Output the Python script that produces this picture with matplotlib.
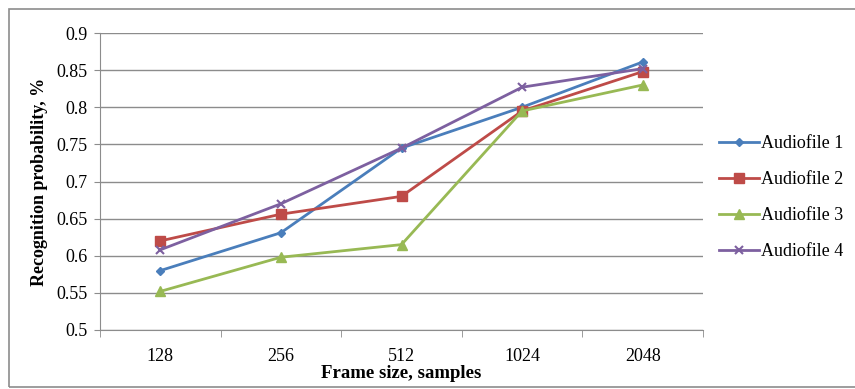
import matplotlib.pyplot as plt
from matplotlib.patches import Rectangle

plt.rcParams['font.family'] = ['Liberation Serif', 'DejaVu Serif']

frame_sizes = ["128", "256", "512", "1024", "2048"]
audio1 = [0.58, 0.631, 0.745, 0.80, 0.861]
audio2 = [0.62, 0.656, 0.68, 0.795, 0.848]
audio3 = [0.552, 0.598, 0.615, 0.795, 0.83]
audio4 = [0.608, 0.67, 0.745, 0.827, 0.852]
series_names = ["Audiofile 1", "Audiofile 2", "Audiofile 3", "Audiofile 4"]

fig = plt.figure(figsize=(8.55, 3.89), dpi=100)
fig.patches.append(Rectangle((9 / 855, 2 / 389), 1.0, 378 / 389, transform=fig.transFigure,
                             fill=False, edgecolor='#8c8c8c', linewidth=1.2))
ax = fig.add_axes([100 / 855, 59 / 389, 603 / 855, 297 / 389])

x = range(len(frame_sizes))
styles = [
    (audio1, '#4A7EBB', 'D', 4.5),
    (audio2, '#BE4B48', 's', 7),
    (audio3, '#98B954', '^', 7),
    (audio4, '#7D60A0', 'x', 6),
]
for (vals, col, mk, ms), name in zip(styles, series_names):
    ax.plot(x, vals, color=col, marker=mk, markersize=ms, linewidth=2,
            markeredgewidth=1.5 if mk == 'x' else 1, label=name)

ax.set_xlim(-0.5, len(frame_sizes) - 0.5)
ax.set_ylim(0.5, 0.9)
ax.set_yticks([0.5, 0.55, 0.6, 0.65, 0.7, 0.75, 0.8, 0.85, 0.9])
ax.set_yticklabels(["0.5", "0.55", "0.6", "0.65", "0.7", "0.75", "0.8", "0.85", "0.9"])
ax.set_xticks(list(x))
ax.set_xticklabels(frame_sizes)
ax.tick_params(axis='x', length=0, labelsize=13, pad=13)
ax.tick_params(axis='y', length=4, color='#8c8c8c', labelsize=13, pad=5)
ax.set_xticks([i - 0.5 for i in range(len(frame_sizes) + 1)], minor=True)
ax.tick_params(axis='x', which='minor', length=5, color='#8c8c8c')
ax.grid(axis='y', color='#8c8c8c', linewidth=1)
ax.set_axisbelow(True)
for s in ['top', 'right']:
    ax.spines[s].set_visible(False)
ax.spines['left'].set_color('#8c8c8c')
ax.spines['bottom'].set_color('#8c8c8c')

ax.set_xlabel("Frame size, samples", fontweight='bold', fontsize=13.5, labelpad=0)
ax.set_ylabel("Recognition probability, %", fontweight='bold', fontsize=13, labelpad=6)

ax.legend(loc='center left', bbox_to_anchor=(1.0, 0.445), frameon=False, fontsize=13,
          handlelength=2.2, handletextpad=0.1, labelspacing=1.05, borderaxespad=0.5)

fig.savefig("out.png", dpi=100)
